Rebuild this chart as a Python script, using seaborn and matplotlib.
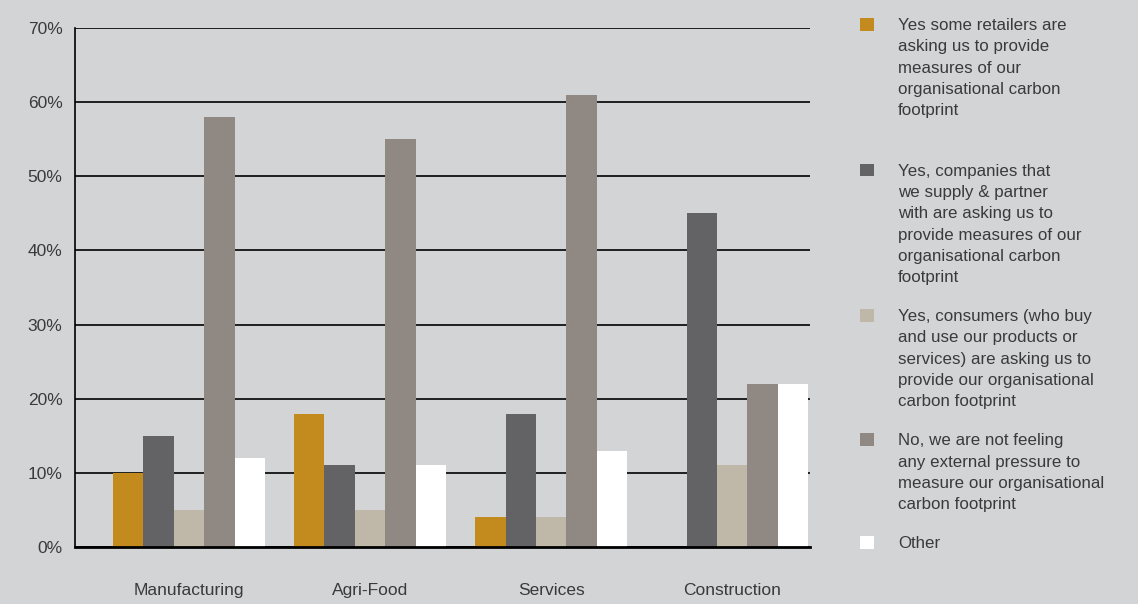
import matplotlib
matplotlib.use("Agg")
import matplotlib.pyplot as plt
import seaborn as sns
import pandas as pd
from matplotlib.patches import Patch

sectors = ["Manufacturing", "Agri-Food", "Services", "Construction"]
responses = [
    "Yes some retailers are\nasking us to provide\nmeasures of our\norganisational carbon\nfootprint\n",
    "Yes, companies that\nwe supply & partner\nwith are asking us to\nprovide measures of our\norganisational carbon\nfootprint",
    "Yes, consumers (who buy\nand use our products or\nservices) are asking us to\nprovide our organisational\ncarbon footprint",
    "No, we are not feeling\nany external pressure to\nmeasure our organisational\ncarbon footprint",
    "Other",
]
retailers = [10, 18, 4, 0]
partners = [15, 11, 18, 45]
consumers = [5, 5, 4, 11]
no_pressure = [58, 55, 61, 22]
other = [12, 11, 13, 22]
yticks = [0, 10, 20, 30, 40, 50, 60, 70]

colors = ["#C38B1E", "#636366", "#BFB8A8", "#8F8883", "#FFFFFF"]
bg = "#D3D4D6"
text_color = "#3A3A3C"

series = [retailers, partners, consumers, no_pressure, other]
rows = []
for resp, vals in zip(responses, series):
    for sec, v in zip(sectors, vals):
        rows.append({"sector": sec, "response": resp, "value": v})
df = pd.DataFrame(rows)

sns.set_style("white")
plt.rcParams["font.family"] = ["Liberation Sans", "DejaVu Sans"]

fig = plt.figure(figsize=(11.38, 6.04), dpi=100, facecolor=bg)
ax = fig.add_axes([75 / 1138, 1 - 547 / 604, (810 - 75) / 1138, (547 - 28) / 604])
ax.set_facecolor(bg)

sns.barplot(data=df, x="sector", y="value", hue="response", order=sectors,
            hue_order=responses, palette=colors, width=0.84, saturation=1,
            linewidth=0, legend=False, ax=ax)

ax.set_xlim(-0.63, 3.43)
ax.set_ylim(0, 70)
ax.set_yticks(yticks)
ax.set_yticklabels([f"{t}%" for t in yticks])
ax.yaxis.grid(True, color="black", linewidth=1.2)
ax.set_axisbelow(True)
ax.set_xlabel("")
ax.set_ylabel("")

for side in ["top", "right"]:
    ax.spines[side].set_visible(False)
ax.spines["left"].set_color("black")
ax.spines["left"].set_linewidth(1.2)
ax.spines["bottom"].set_color("black")
ax.spines["bottom"].set_linewidth(2)

ax.tick_params(axis="y", length=0, pad=9, labelsize=12.5, labelcolor=text_color)
ax.tick_params(axis="x", length=0, pad=26, labelsize=12.5, labelcolor=text_color)

handles = [Patch(facecolor=c, edgecolor="none") for c in colors]
leg = ax.legend(handles, responses, loc="upper left",
                bbox_to_anchor=(860 / 1138, 1 - 18 / 604),
                bbox_transform=fig.transFigure, frameon=False,
                fontsize=12.2, handlelength=0.8, handleheight=0.8,
                handletextpad=1.45, labelspacing=1.4, borderpad=0,
                borderaxespad=0)
for t in leg.get_texts():
    t.set_color(text_color)
    t.set_linespacing(1.53)
# put each square beside the first line of its label
for col in leg._legend_handle_box.get_children():
    for item in col.get_children():
        item.align = "top"

fig.savefig("out.png", dpi=100, facecolor=bg)
